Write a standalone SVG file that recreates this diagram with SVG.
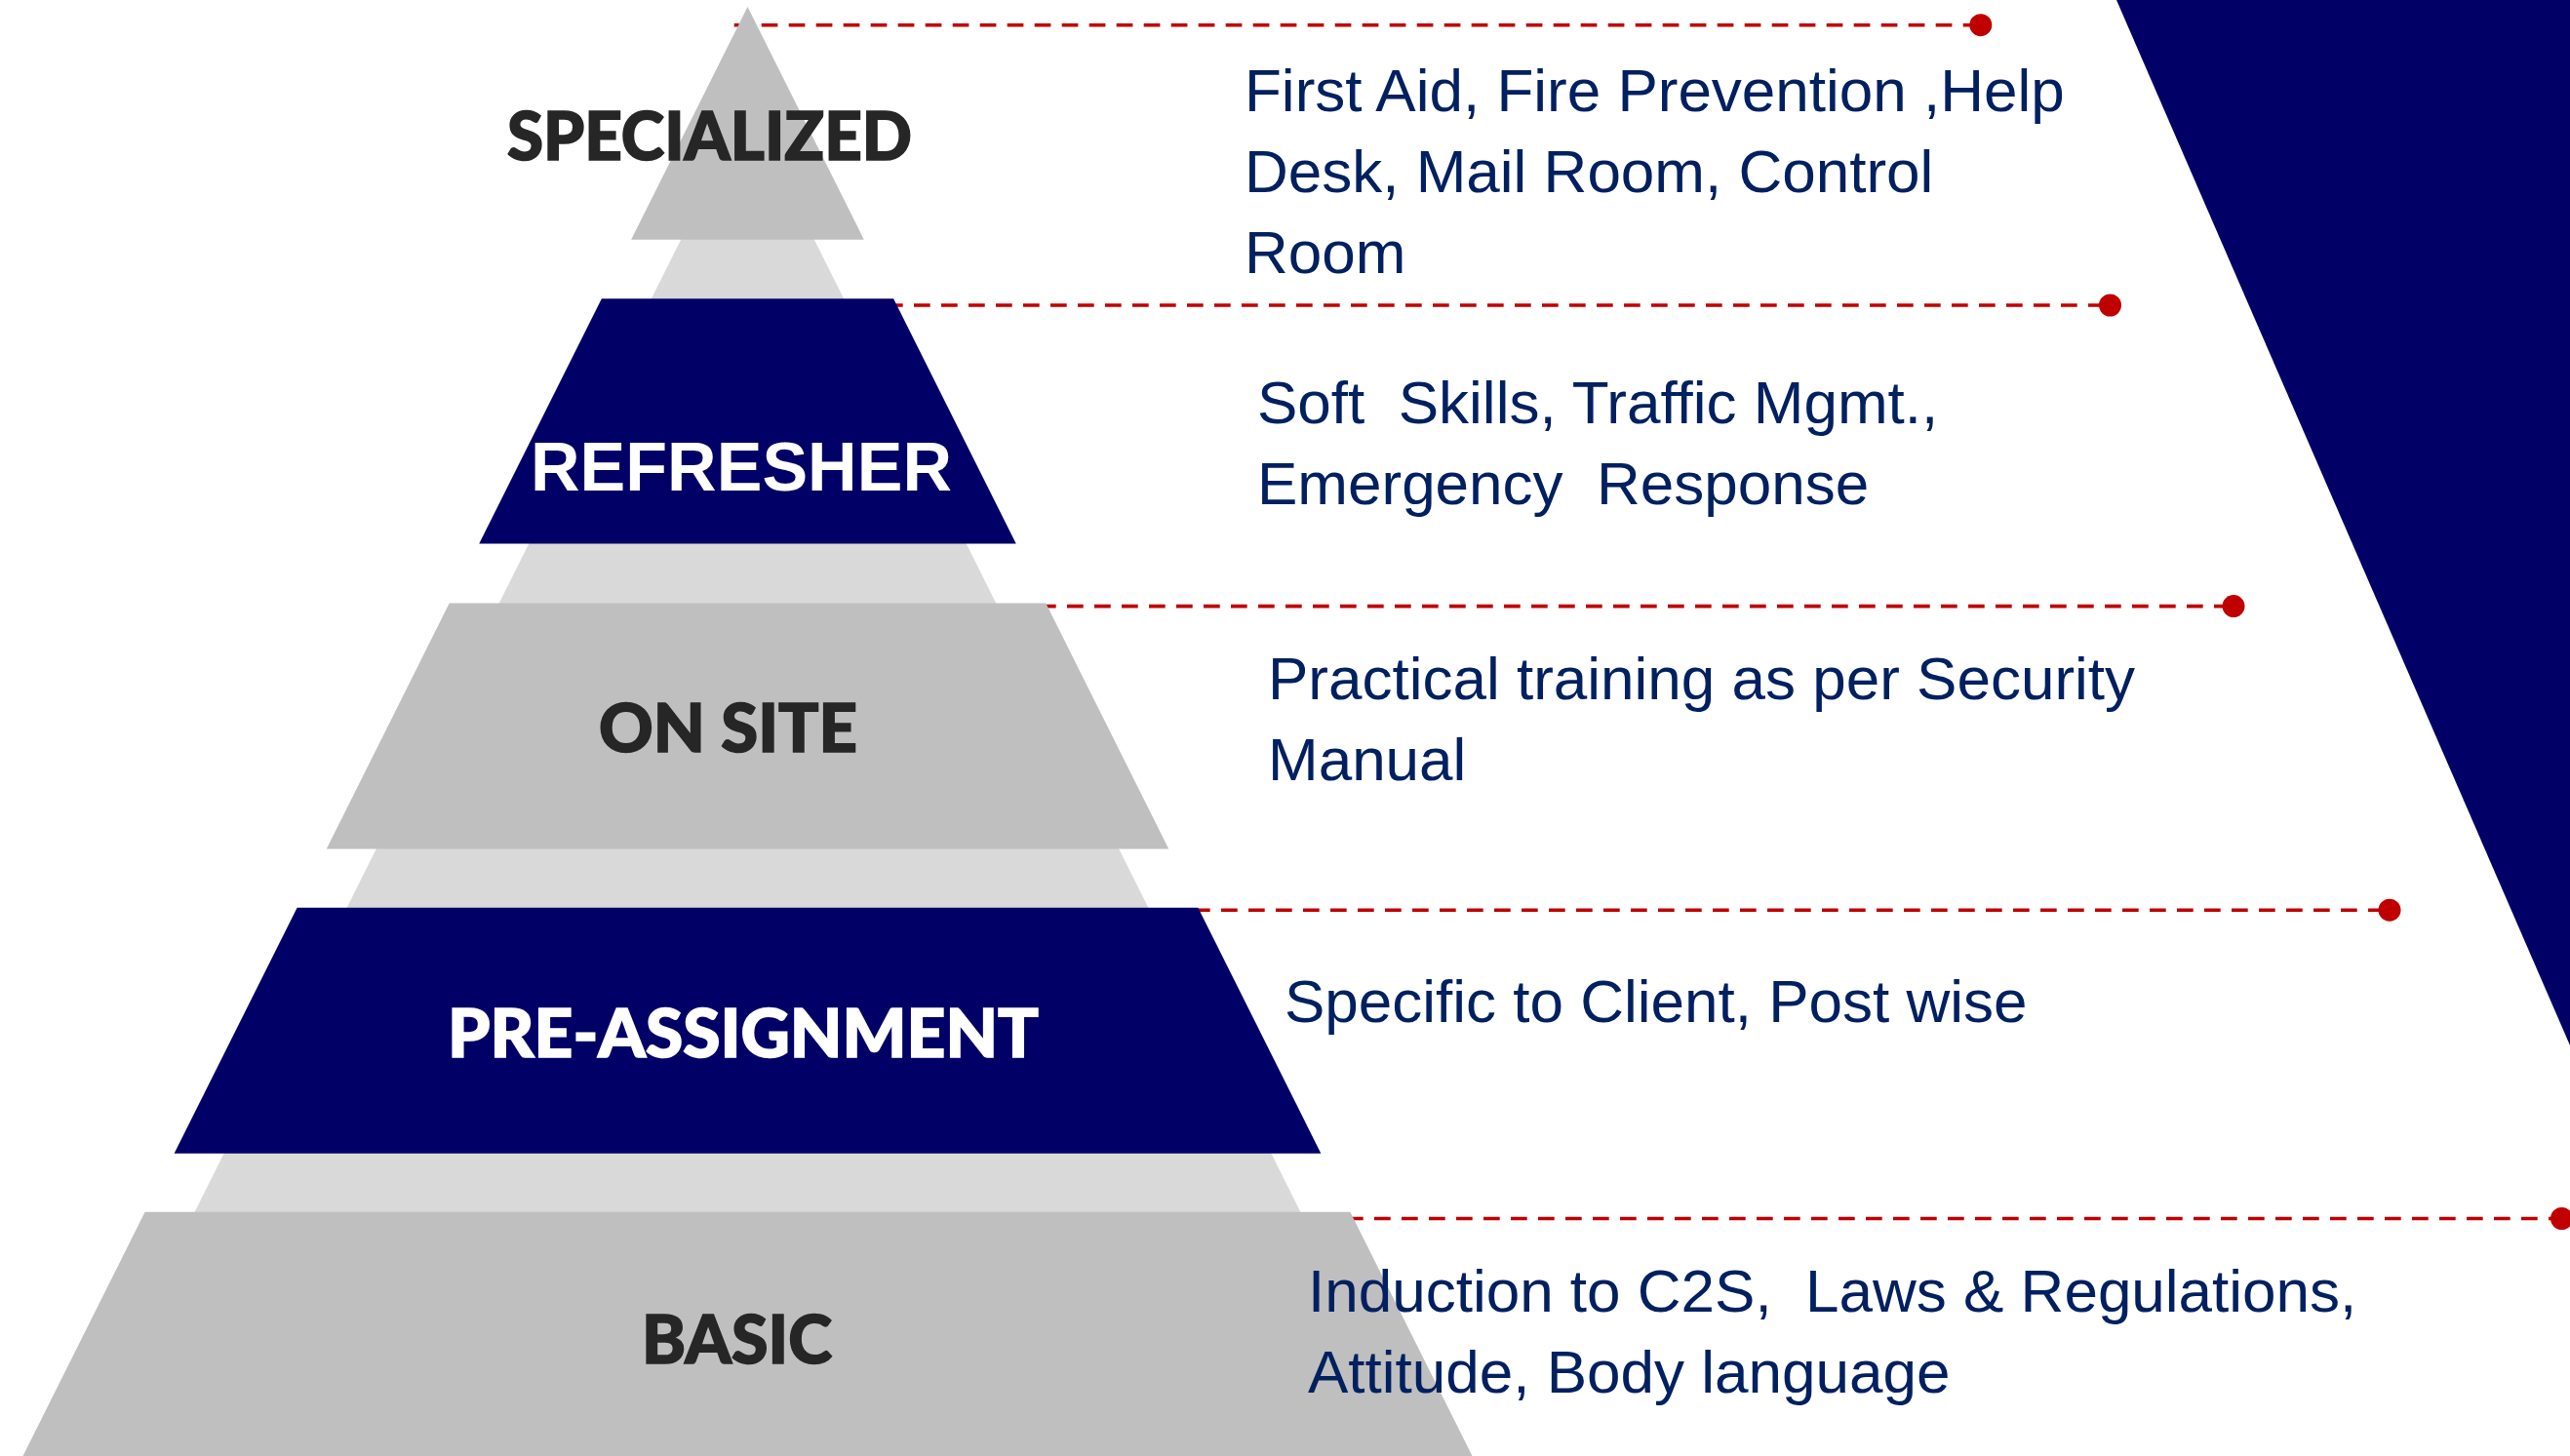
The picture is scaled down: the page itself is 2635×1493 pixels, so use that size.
<svg xmlns="http://www.w3.org/2000/svg" width="2635" height="1493" viewBox="0 0 2635 1493">
  <defs>
    <marker id="dot" markerUnits="userSpaceOnUse" markerWidth="26" markerHeight="26" refX="13" refY="13" orient="auto">
      <circle cx="13" cy="13" r="11.5" fill="#c00000"/>
    </marker>
  </defs>
  <style>
    .bg { fill: #d9d9d9; }
    .gray { fill: #bfbfbf; }
    .navy { fill: #000066; }
    .conn { stroke: #c00000; stroke-width: 3.6; stroke-dasharray: 16.7 11.3; fill: none; marker-end: url(#dot); }
    .lbl { font-family: Lato, "Noto Sans", "DejaVu Sans", sans-serif; font-weight: 900; font-size: 68px; fill: #262626; stroke: #262626; stroke-width: 1.6; }
    .lblw { font-family: "Liberation Sans", Arial, sans-serif; font-weight: bold; font-size: 71px; fill: #ffffff; }
    .lblw2 { font-family: Lato, "Noto Sans", "DejaVu Sans", sans-serif; font-weight: 900; font-size: 68px; fill: #ffffff; stroke: #ffffff; stroke-width: 1.6; }
    .desc { font-family: "Liberation Sans", Arial, sans-serif; font-size: 62px; fill: #002060; white-space: pre; }
  </style>

  <rect width="2635" height="1493" fill="#ffffff"/>
  <polygon id="backdrop" class="bg" points="766.5,109 74.5,1493 1458.5,1493"/>
  <polygon id="corner" class="navy" points="2170,0 2635,0 2635,1072"/>

  <g id="connectors">
    <line class="conn" x1="752.7" y1="25.7" x2="2030.8" y2="25.7"/>
    <line class="conn" x1="909" y1="313" x2="2163.5" y2="313"/>
    <line class="conn" x1="1066" y1="621.6" x2="2290" y2="621.6"/>
    <line class="conn" x1="1224" y1="933.2" x2="2450" y2="933.2"/>
    <line class="conn" x1="1381" y1="1249.5" x2="2626.5" y2="1249.5"/>
  </g>

  <g id="specialized">
    <polygon class="gray" points="766.5,7 885.85,245.7 647.15,245.7"/>
    <text class="lbl" x="520" y="163.5" textLength="415" lengthAdjust="spacingAndGlyphs">SPECIALIZED</text>
    <text class="desc" x="1276" y="114">First Aid, Fire Prevention ,Help</text>
    <text class="desc" x="1276" y="197">Desk, Mail Room, Control</text>
    <text class="desc" x="1276" y="280">Room</text>
  </g>

  <g id="refresher">
    <polygon class="navy" points="616.9,306.2 916.1,306.2 1041.75,557.5 491.25,557.5"/>
    <text class="lblw" x="544" y="502.5" textLength="432" lengthAdjust="spacingAndGlyphs">REFRESHER</text>
    <text class="desc" x="1289" y="434.4">Soft  Skills, Traffic Mgmt.,</text>
    <text class="desc" x="1289" y="516.7">Emergency  Response</text>
  </g>

  <g id="onsite">
    <polygon class="gray" points="460.7,618.6 1072.3,618.6 1198.25,870.5 334.75,870.5"/>
    <text class="lbl" x="614" y="770.7" textLength="265" lengthAdjust="spacingAndGlyphs">ON SITE</text>
    <text class="desc" x="1300" y="717">Practical training as per Security</text>
    <text class="desc" x="1300" y="800">Manual</text>
  </g>

  <g id="preassignment">
    <polygon class="navy" points="304.65,930.7 1228.35,930.7 1354.35,1182.7 178.65,1182.7"/>
    <text class="lblw2" x="459" y="1084" textLength="606" lengthAdjust="spacingAndGlyphs">PRE-ASSIGNMENT</text>
    <text class="desc" x="1317" y="1048">Specific to Client, Post wise</text>
  </g>

  <g id="basic">
    <polygon class="gray" points="148.6,1242.8 1384.4,1242.8 1509.5,1493 23.5,1493"/>
    <text class="lbl" x="658" y="1398" textLength="195" lengthAdjust="spacingAndGlyphs">BASIC</text>
    <text class="desc" x="1341" y="1345">Induction to C2S,  Laws &amp; Regulations,</text>
    <text class="desc" x="1341" y="1428">Attitude, Body language</text>
  </g>
</svg>
